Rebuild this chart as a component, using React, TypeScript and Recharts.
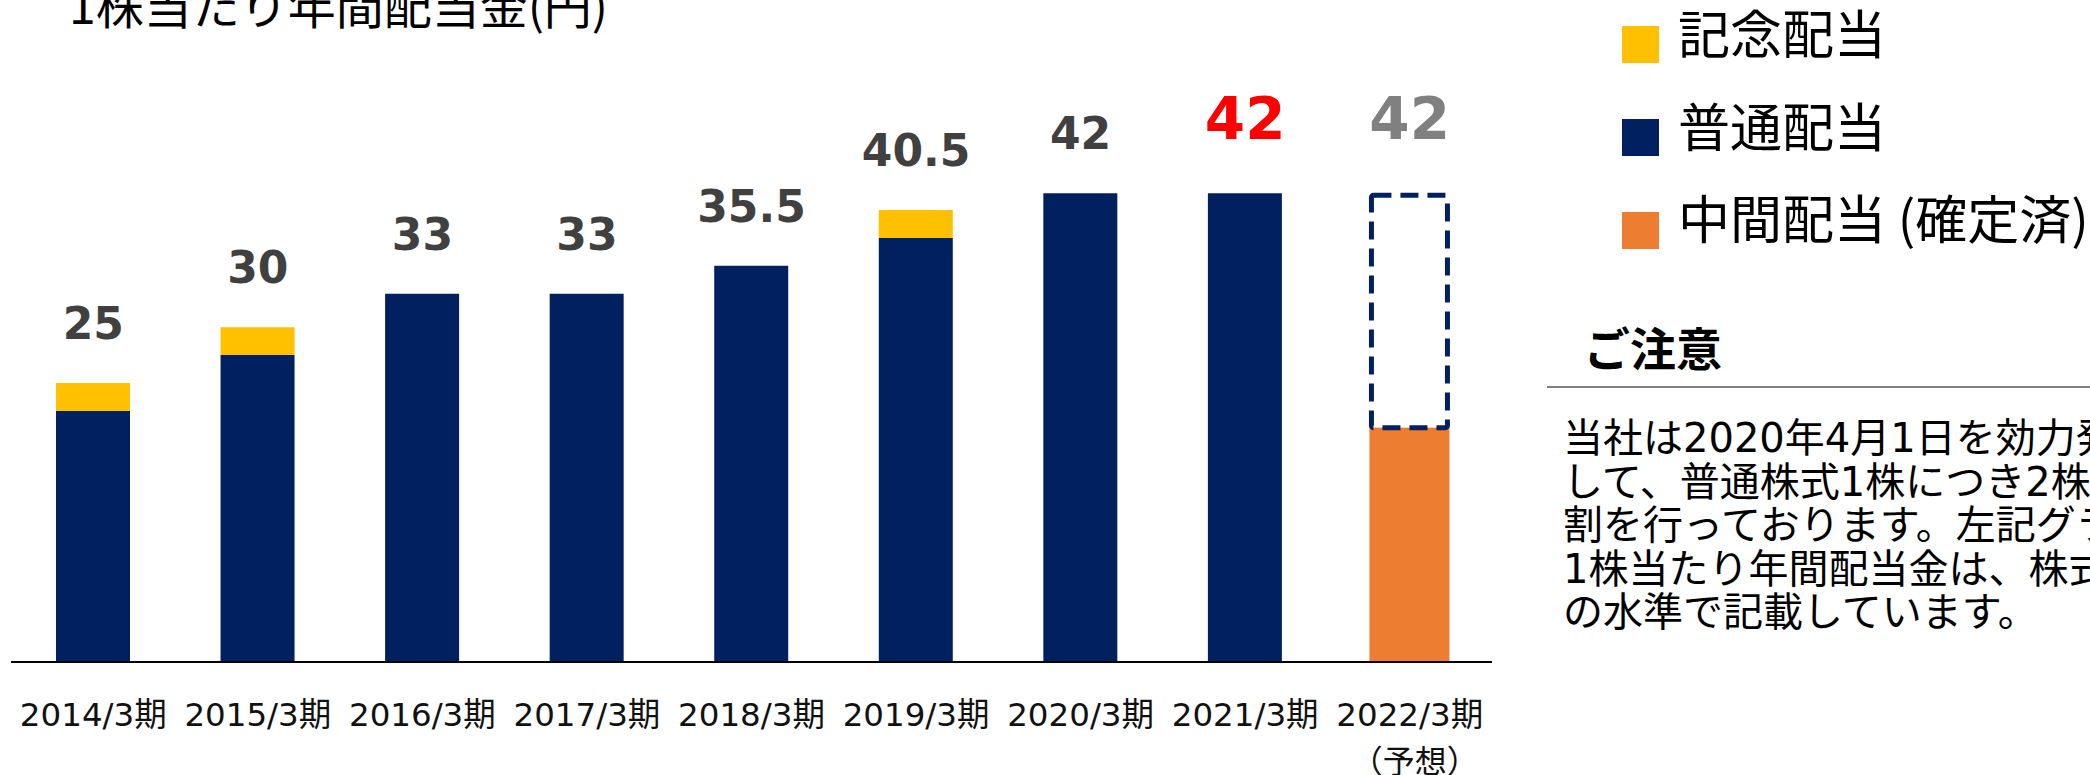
// Annual dividend per share: stacked bars (regular / commemorative / interim / forecast)
// with a legend and a note panel on the right.

import { Bar, ComposedChart, Line, XAxis, YAxis } from "recharts";

const categories = [
  "2014/3期",
  "2015/3期",
  "2016/3期",
  "2017/3期",
  "2018/3期",
  "2019/3期",
  "2020/3期",
  "2021/3期",
  "2022/3期",
];
const subLabels = ["", "", "", "", "", "", "", "", "（予想）"];

// 普通配当, 記念配当, 中間配当(確定済), 期末配当(予想)
const regular = [22.5, 27.5, 33, 33, 35.5, 38, 42, 42, 0];
const commemorative = [2.5, 2.5, 0, 0, 0, 2.5, 0, 0, 0];
const interimConfirmed = [0, 0, 0, 0, 0, 0, 0, 0, 21];
const yearEndForecast = [0, 0, 0, 0, 0, 0, 0, 0, 21];

const legendItems = ["記念配当", "普通配当", "中間配当 (確定済)"];
const noteLines = [
  "当社は2020年4月1日を効力発生日と",
  "して、普通株式1株につき2株の割合で株式分",
  "割を行っております。左記グラフの",
  "1株当たり年間配当金は、株式分割後",
  "の水準で記載しています。",
];

const NAVY = "#002060";
const YELLOW = "#FFC000";
const ORANGE = "#ED7D31";
const LATIN = '"DejaVu Sans", "Noto Sans CJK JP", sans-serif';
const CJK = '"Noto Sans CJK JP", sans-serif';

const labelColors: Record<string, string> = {
  "2021/3期": "#FF0000",
  "2022/3期": "#808080",
};

const data = categories.map((c, i) => ({
  name: c,
  sub: subLabels[i],
  regular: regular[i],
  commemorative: commemorative[i],
  interim: interimConfirmed[i],
  forecast: yearEndForecast[i],
  total: regular[i] + commemorative[i] + interimConfirmed[i] + yearEndForecast[i],
}));

function TotalLabel(props: any) {
  const { cx, cy, index, payload } = props;
  const color = labelColors[payload.name];
  const big = !!color;
  return (
    <text
      key={`lbl-${index}`}
      x={cx}
      y={cy - (big ? 54 : 44)}
      textAnchor="middle"
      fontFamily={LATIN}
      fontWeight="bold"
      fontSize={big ? 58 : 44}
      fill={color || "#404040"}
    >
      {String(payload.total)}
    </text>
  );
}

function CategoryTick(props: any) {
  const { x, y, payload, index } = props;
  const sub = subLabels[index];
  return (
    <g>
      <text x={x} y={y + 64} textAnchor="middle" fontFamily={LATIN} fontSize={32.5} fill="#111">
        {payload.value}
      </text>
      {sub ? (
        <text x={x + 5} y={y + 111} textAnchor="middle" fontFamily={CJK} fontSize={32} fill="#111">
          {sub}
        </text>
      ) : null}
    </g>
  );
}

function WideRect(props: any) {
  const { x, y, width, height, fill } = props;
  if (!height || height <= 0) return null;
  return <rect x={x - 3} y={y} width={width + 6} height={height} fill={fill} />;
}

function DashedRect(props: any) {
  const { x, y, width, height } = props;
  if (!height || height <= 0) return null;
  return (
    <rect
      x={x - 1}
      y={y + 2}
      width={width + 2}
      height={height - 2}
      rx={2}
      fill="none"
      stroke={NAVY}
      strokeWidth={5}
      strokeDasharray="18 9"
    />
  );
}

export default function App() {
  return (
    <div
      style={{
        position: "fixed",
        left: 0,
        top: 0,
        width: 2090,
        height: 775,
        overflow: "hidden",
        background: "#fff",
      }}
    >
      <svg
        width={2090}
        height={775}
        style={{ position: "absolute", left: 0, top: 0 }}
      >
        <text x={69} y={24} fontFamily={CJK} fontSize={48} fill="#000">
          1株当たり年間配当金(円)
        </text>

        {legendItems.map((t, i) => (
          <g key={t}>
            <rect
              x={1622}
              y={26 + i * 93}
              width={37}
              height={37}
              fill={[YELLOW, NAVY, ORANGE][i]}
            />
            <text x={1678} y={54 + i * 92.5} fontFamily={CJK} fontSize={52} fill="#000">
              {t}
            </text>
          </g>
        ))}

        <text x={1584} y={366} fontFamily={CJK} fontWeight="bold" fontSize={46} fill="#000">
          ご注意
        </text>
        <line x1={1547} y1={387} x2={2090} y2={387} stroke="#7F7F7F" strokeWidth={2} />
        {noteLines.map((t, i) => (
          <text
            key={i}
            x={1563}
            y={452 + i * 43.5}
            fontFamily={LATIN}
            fontSize={40}
            fill="#000"
          >
            {t}
          </text>
        ))}
      </svg>

      <div style={{ position: "absolute", left: 0, top: 0 }}>
        <ComposedChart
          width={1500}
          height={775}
          data={data}
          margin={{ top: 104, right: 8, bottom: 0, left: 11 }}
          barSize={74}
        >
          <XAxis
            dataKey="name"
            height={113}
            tickLine={false}
            tickSize={0}
            tickMargin={0}
            axisLine={{ stroke: "#000", strokeWidth: 2 }}
            tick={<CategoryTick />}
            interval={0}
          />
          <YAxis hide domain={[0, 50]} />
          <Bar dataKey="regular" stackId="a" fill={NAVY} isAnimationActive={false} />
          <Bar dataKey="commemorative" stackId="a" fill={YELLOW} isAnimationActive={false} />
          <Bar
            dataKey="interim"
            stackId="a"
            fill={ORANGE}
            shape={<WideRect />}
            isAnimationActive={false}
          />
          <Bar
            dataKey="forecast"
            stackId="a"
            fill="none"
            shape={<DashedRect />}
            isAnimationActive={false}
          />
          <Line
            dataKey="total"
            stroke="none"
            dot={TotalLabel}
            activeDot={false}
            legendType="none"
            isAnimationActive={false}
          />
        </ComposedChart>
      </div>
    </div>
  );
}
